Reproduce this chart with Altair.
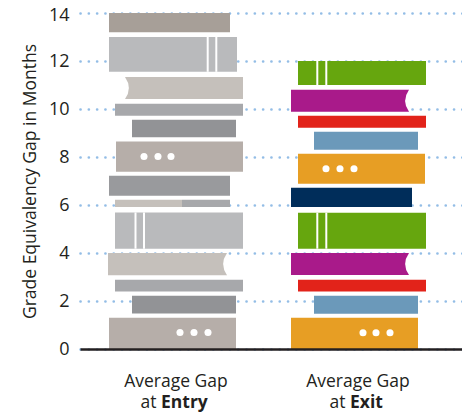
import altair as alt
import pandas as pd

# ---- data (months on y; horizontal extents in hidden x units) ----
book_stack = ["Entry"] * 14 + ["Exit"] * 11
book_left = [29, 29, 45, 35, 52, 36, 29, 35, 102, 35, 28, 35, 52, 29,
             218, 211, 218, 234, 218, 211, 218, 211, 218, 234, 211]
book_right = [150, 157, 163, 163, 156, 163, 150, 102, 150, 163, 147, 163, 156, 156,
              346, 329, 346, 338, 345, 332, 346, 329, 346, 338, 338]
book_bottom = [13.2, 11.55, 10.42, 9.72, 8.82, 7.39, 6.39, 5.92, 5.92, 4.18, 3.07, 2.40, 1.48, 0.0,
               11.0, 9.89, 9.22, 8.30, 6.89, 5.92, 4.18, 3.08, 2.40, 1.47, 0.0]
book_top = [14.0, 13.0, 11.33, 10.22, 9.55, 8.65, 7.22, 6.22, 6.22, 5.69, 4.0, 2.89, 2.22, 1.30,
            12.0, 10.8, 9.72, 9.05, 8.14, 6.72, 5.68, 4.0, 2.89, 2.22, 1.30]
book_color = ["#a79f98", "#b9babc", "#c5c0bb", "#a7a8ab", "#929396", "#b6aea9", "#999a9d",
              "#c5c0bb", "#a7a8ab", "#b9babc", "#c5c0bb", "#a7a8ab", "#929396", "#b6aea9",
              "#66a60e", "#a91a8a", "#e2231a", "#6b99ba", "#e79e24", "#002d5a",
              "#66a60e", "#a91a8a", "#e2231a", "#6b99ba", "#e79e24"]

spine_x = [127.7, 136.3, 55.5, 64.0, 237.3, 246.3, 237.3, 246.3]
spine_bottom = [11.55, 11.55, 4.18, 4.18, 11.0, 11.0, 4.18, 4.18]
spine_top = [13.0, 13.0, 5.69, 5.69, 12.0, 12.0, 5.68, 5.68]

dot_x = [64, 78, 91, 100, 114, 128, 246, 260, 274, 283, 296, 310]
dot_y = [8.02, 8.02, 8.02, 0.69, 0.69, 0.69, 7.51, 7.51, 7.51, 0.68, 0.68, 0.68]

page_x = [45, 147, 329, 329]
page_y = [10.875, 3.535, 10.345, 3.54]
page_side = ["left", "right", "right", "right"]

label_center = [96, 278]
label_line1 = ["Average Gap", "Average Gap"]
label_plain = ["at", "at"]
label_bold = ["Entry", "Exit"]
label_join = [81, 270]

y_ticks = [0, 2, 4, 6, 8, 10, 12, 14]

FONT = "Open Sans"
INK = "#231f20"

books = pd.DataFrame(dict(stack=book_stack, x0=book_left, x1=book_right,
                          y0=book_bottom, y1=book_top, color=book_color))
spines = pd.DataFrame(dict(x=spine_x, y0=spine_bottom, y1=spine_top))
dots = pd.DataFrame(dict(x=dot_x, y=dot_y))
pages = pd.DataFrame(dict(x=page_x, y=page_y, side=page_side))
labels = pd.DataFrame(dict(c=label_center, l1=label_line1, b=label_bold, j=label_join,
                           at=label_plain, zero=[0, 0]))

xs = alt.Scale(domain=[0, 382], nice=False, zero=False)
ys = alt.Scale(domain=[0, 14], nice=False)

x_axis = alt.Axis(labels=False, ticks=False, grid=False, title=None,
                  domainColor=INK, domainWidth=2.5, zindex=1)
y_axis = alt.Axis(values=y_ticks, title="Grade Equivalency Gap in Months",
                  labelFont=FONT, labelFontSize=18, labelColor=INK, labelPadding=11,
                  labelOffset={"condition": {"test": "datum.value == 14", "value": 2},
                               "value": 0},
                  titleFont=FONT, titleFontSize=17.5, titleFontWeight="normal", titleColor=INK,
                  titlePadding=9, ticks=False, domain=False,
                  grid=True, gridColor="#93bde6", gridWidth=2.6,
                  gridDash=[0.1, 8.2], gridCap="round")

rects = alt.Chart(books).mark_rect().encode(
    x=alt.X("x0:Q", scale=xs, axis=x_axis),
    x2="x1:Q",
    y=alt.Y("y0:Q", scale=ys, axis=y_axis),
    y2="y1:Q",
    color=alt.Color("color:N", scale=None),
)

spine_layer = alt.Chart(spines).mark_rule(color="white", strokeWidth=2).encode(
    x=alt.X("x:Q", scale=xs), y=alt.Y("y0:Q", scale=ys), y2="y1:Q"
)

dot_layer = alt.Chart(dots).mark_point(filled=True, color="white", opacity=1, size=50).encode(
    x=alt.X("x:Q", scale=xs), y=alt.Y("y:Q", scale=ys)
)

left_pages = alt.Chart(pages).transform_filter("datum.side == 'left'").mark_point(
    filled=True, color="white", opacity=1, size=490, shape="M0,-1 Q0.7,0 0,1 Z"
).encode(x=alt.X("x:Q", scale=xs), y=alt.Y("y:Q", scale=ys))

right_pages = alt.Chart(pages).transform_filter("datum.side == 'right'").mark_point(
    filled=True, color="white", opacity=1, size=490, shape="M0,-1 Q-0.7,0 0,1 Z"
).encode(x=alt.X("x:Q", scale=xs), y=alt.Y("y:Q", scale=ys))

line1 = alt.Chart(labels).mark_text(font=FONT, fontSize=17.5, color=INK, align="center",
                                    baseline="alphabetic", dy=38).encode(
    x=alt.X("c:Q", scale=xs), y=alt.Y("zero:Q", scale=ys), text="l1:N")
line2a = alt.Chart(labels).mark_text(font=FONT, fontSize=17.5, color=INK, align="right",
                                     baseline="alphabetic", dy=59, dx=-4.5).encode(
    x=alt.X("j:Q", scale=xs), y=alt.Y("zero:Q", scale=ys), text="at:N")
line2b = alt.Chart(labels).mark_text(font=FONT, fontSize=17.5, fontWeight="bold", color=INK,
                                     align="left", baseline="alphabetic", dy=59).encode(
    x=alt.X("j:Q", scale=xs), y=alt.Y("zero:Q", scale=ys), text="b:N")

chart = alt.layer(rects, spine_layer, dot_layer, left_pages, right_pages,
                  line1, line2a, line2b).properties(
    width=382, height=336,
    autosize=alt.AutoSizeParams(type="none"),
    padding={"left": 72, "top": 5, "right": 0, "bottom": 64},
).configure_view(stroke=None)

chart.save("out.html", embed_options={"renderer": "svg", "actions": False})
